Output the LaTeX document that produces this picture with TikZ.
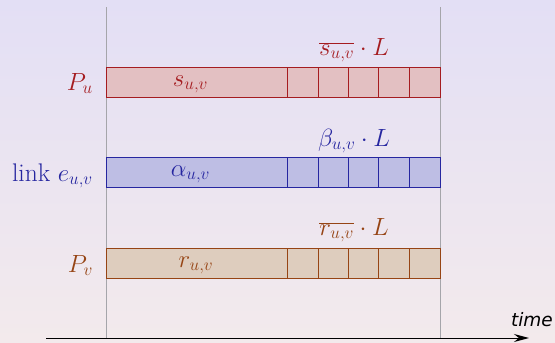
\documentclass[tikz,border=0pt]{standalone}
\usepackage{fontspec}
\newfontfamily\timefont{DejaVu Sans}
\usetikzlibrary{arrows.meta}
\definecolor{bgtop}{RGB}{227,223,245}
\definecolor{bgbot}{RGB}{243,234,236}
\definecolor{redtxt}{RGB}{165,28,32}
\definecolor{redfill}{RGB}{227,192,194}
\definecolor{bluetxt}{RGB}{38,38,160}
\definecolor{bluefill}{RGB}{190,190,228}
\definecolor{browntxt}{RGB}{150,68,20}
\definecolor{brownfill}{RGB}{222,205,190}
\definecolor{guide}{RGB}{165,165,170}
\begin{document}
\begin{tikzpicture}[x=1pt,y=-1pt,
  lbl/.style={inner sep=0pt,font=\fontsize{25.5}{28}\selectfont},
  bar/.style={line width=0.9pt},
  guideline/.style={draw=guide,line width=0.9pt}]
\useasboundingbox (0,0) rectangle (555,343);
\shade[top color=bgtop,bottom color=bgbot] (0,0) rectangle (555,343);
% guide lines
\coordinate (g1t) at (106,7);
\coordinate (g1b) at (106,338);
\coordinate (g2t) at (440,7);
\coordinate (g2b) at (440,338);
\draw[guideline] (g1t) -- (g1b);
\draw[guideline] (g2t) -- (g2b);
% bars
\foreach \yy/\c in {67/red,157/blue,248/brown}{
  \draw[bar,draw=\c txt,fill=\c fill] (106,\yy) rectangle (440,\yy+30);
  \foreach \xx in {287.5,318,348.3,378.6,409}
    \draw[bar,draw=\c txt] (\xx,\yy) -- (\xx,\yy+30);
}
% left labels
\node[lbl,anchor=base east,text=redtxt] (pu) at (93,90) {$P_u$};
\node[lbl,anchor=base east,text=bluetxt] (link) at (93,181) {link $e_{u,v}$};
\node[lbl,anchor=base east,text=browntxt] (pv) at (93,272) {$P_v$};
% inner labels
\node[lbl,anchor=base,text=redtxt] (s) at (190.5,86) {$s_{u,v}$};
\node[lbl,anchor=base,text=bluetxt] (a) at (190.5,176) {$\alpha_{u,v}$};
\node[lbl,anchor=base,text=browntxt] (r) at (196,267) {$r_{u,v}$};
% top labels
\node[lbl,anchor=base,text=redtxt] (sb) at (354,55) {$\overline{s_{u,v}}\cdot L$};
\node[lbl,anchor=base,text=bluetxt] (b) at (354,146) {$\beta_{u,v}\cdot L$};
\node[lbl,anchor=base,text=browntxt] (rb) at (354,235) {$\overline{r_{u,v}}\cdot L$};
% time axis
\coordinate (t0) at (46,338);
\coordinate (t1) at (529,338);
\draw[line width=1pt,-{Stealth[length=15pt,width=8pt,inset=5pt]}] (t0) -- (t1);
\node[inner sep=0pt,anchor=base east,font=\timefont\itshape\fontsize{18.5}{21}\selectfont] (time) at (553,326) {time};
\end{tikzpicture}
\end{document}
